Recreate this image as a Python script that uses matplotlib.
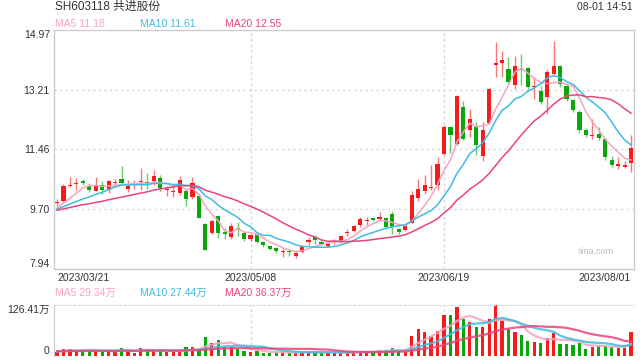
"""SH603118 daily candles with MA lines and volume panel"""

import numpy as np
import matplotlib.pyplot as plt

plt.rcParams['font.family'] = ['Liberation Sans', 'Noto Sans CJK SC', 'DejaVu Sans']

# closes / volumes before 2023/03/21, only used to seed the moving averages
prev_close = [9.52, 9.58, 9.61, 9.66, 9.70, 9.63, 9.59, 9.64, 9.71, 9.68,
              9.62, 9.65, 9.70, 9.73, 9.66, 9.62, 9.70, 9.68, 9.72]
prev_vol = [12.0, 13.5, 11.0, 12.5, 10.5, 12.0, 13.0, 11.5, 12.0, 10.0,
            12.5, 11.0, 13.0, 12.0, 11.5, 10.5, 12.0, 11.0, 12.5]

opens = [9.87, 9.93, 10.38, 10.44, 10.52, 10.37, 10.24, 10.42, 10.27, 10.46,
         10.60, 10.29, 10.44, 10.49, 10.48, 10.53, 10.63, 10.27, 10.20, 10.19,
         10.24, 10.06, 10.10, 9.26, 9.01, 9.49, 9.00, 8.87, 9.15, 9.00,
         8.82, 8.97, 8.74, 8.61, 8.56, 8.44, 8.45, 8.32, 8.43, 8.72,
         8.88, 8.74, 8.63, 8.74, 8.74, 8.99, 9.06, 9.23, 9.35, 9.45,
         9.42, 9.45, 9.55, 9.12, 9.08, 9.30, 10.04, 10.24, 10.33, 10.40,
         11.33, 12.13, 11.63, 12.70, 12.02, 12.13, 11.25, 12.23, 13.95, 13.99,
         13.81, 13.34, 13.81, 13.84, 13.28, 13.19, 13.00, 13.68, 13.92, 13.31,
         12.92, 12.56, 12.02, 11.86, 11.92, 11.77, 11.16, 10.98, 10.95, 11.06]
highs = [10.00, 10.43, 10.65, 10.63, 10.60, 10.46, 10.65, 10.53, 10.57, 10.60,
         10.97, 10.57, 10.57, 10.92, 10.75, 10.85, 10.70, 10.37, 10.40, 10.68,
         10.28, 10.64, 10.15, 9.28, 9.37, 9.50, 9.14, 9.29, 9.31, 9.02,
         8.98, 8.99, 8.76, 8.63, 8.58, 8.54, 8.54, 8.43, 8.65, 8.87,
         8.90, 8.78, 8.70, 8.83, 8.93, 9.13, 9.23, 9.48, 9.46, 9.48,
         9.63, 9.47, 9.65, 9.16, 9.27, 10.23, 10.60, 10.70, 11.00, 11.23,
         12.17, 12.14, 13.07, 12.89, 12.66, 12.26, 12.26, 13.27, 14.61, 14.36,
         14.18, 14.20, 14.26, 13.88, 13.58, 13.32, 13.83, 14.66, 13.93, 13.40,
         12.95, 12.61, 12.08, 12.36, 12.12, 11.80, 11.25, 11.22, 11.11, 11.87]
lows = [9.78, 9.92, 10.35, 10.26, 10.40, 10.20, 10.22, 10.15, 10.17, 10.35,
        10.42, 10.20, 10.30, 10.26, 10.28, 10.40, 10.24, 10.10, 10.05, 10.12,
        9.79, 10.00, 9.44, 8.50, 8.97, 8.85, 8.82, 8.82, 8.90, 8.76,
        8.76, 8.70, 8.58, 8.51, 8.40, 8.29, 8.33, 8.25, 8.40, 8.66,
        8.68, 8.64, 8.58, 8.68, 8.70, 8.91, 9.02, 9.17, 9.24, 9.35,
        9.38, 9.15, 8.97, 8.98, 9.05, 9.28, 9.95, 10.14, 10.27, 10.26,
        11.30, 11.34, 11.60, 11.72, 11.82, 11.28, 11.12, 12.20, 13.58, 13.58,
        13.40, 13.22, 13.34, 13.23, 12.95, 12.80, 12.50, 13.65, 13.30, 12.89,
        12.55, 11.94, 11.82, 11.77, 11.72, 11.14, 10.95, 10.87, 10.90, 10.80]
closes = [9.92, 10.37, 10.40, 10.46, 10.47, 10.26, 10.40, 10.26, 10.53, 10.48,
          10.48, 10.37, 10.45, 10.51, 10.46, 10.67, 10.32, 10.29, 10.22, 10.55,
          10.00, 10.47, 9.44, 8.50, 9.35, 9.01, 8.98, 9.20, 9.12, 8.82,
          8.94, 8.72, 8.64, 8.53, 8.46, 8.46, 8.43, 8.40, 8.62, 8.79,
          8.79, 8.68, 8.65, 8.76, 8.91, 9.01, 9.20, 9.41, 9.37, 9.38,
          9.44, 9.18, 9.18, 9.04, 9.23, 10.11, 10.29, 10.40, 10.35, 11.04,
          12.11, 11.87, 13.04, 11.77, 12.36, 11.58, 12.02, 13.24, 13.99, 14.10,
          13.43, 13.90, 13.79, 13.29, 13.30, 12.85, 13.73, 13.92, 13.39, 12.95,
          12.61, 12.02, 11.88, 11.88, 11.78, 11.23, 10.99, 11.02, 10.99, 11.50]
# volume in 万
volumes = [10.1, 17.6, 17.6, 12.6, 14.2, 14.2, 14.2, 10.1, 10.9, 10.9,
           20.1, 14.2, 7.5, 20.1, 14.2, 14.2, 14.2, 10.1, 10.9, 11.7,
           22.6, 22.6, 14.2, 47.8, 32.7, 40.2, 23.5, 22.6, 18.4, 12.6,
           10.1, 12.6, 8.4, 7.5, 9.2, 10.1, 8.4, 8.4, 10.1, 10.1,
           10.1, 8.4, 8.4, 8.4, 8.4, 8.4, 11.0, 12.6, 11.0, 11.0,
           14.3, 14.0, 21.0, 12.6, 12.6, 50.6, 65.8, 60.7, 49.7, 61.5,
           101.0, 101.0, 121.4, 91.0, 83.5, 70.8, 70.8, 92.7, 126.41, 86.0,
           65.8, 60.7, 53.0, 38.0, 35.4, 32.9, 45.5, 58.2, 30.3, 30.3,
           27.8, 32.9, 17.7, 22.8, 25.3, 25.3, 22.8, 20.2, 20.2, 60.7]

date_ticks = [0, 30, 60, 89]
date_labels = ['2023/03/21', '2023/05/08', '2023/06/19', '2023/08/01']
price_ticks = [7.94, 9.70, 11.46, 13.21, 14.97]
vol_max = 126.41

ma_periods = [5, 10, 20]
ma_names = ['MA5', 'MA10', 'MA20']
ma_price_text = ['11.18', '11.61', '12.55']
ma_vol_text = ['29.34万', '27.44万', '36.37万']
ma_colors = ['#f9a3c0', '#3dbde0', '#e9457c']

RED = '#f71c1c'
GREEN = '#0aa70a'
TEXT = '#333333'
GRID = '#d6d6d6'


def moving_avg(prev, vals, n):
    s = np.array(prev + vals, dtype=float)
    out = np.convolve(s, np.ones(n) / n, mode='valid')
    return out[-len(vals):]


o = np.array(opens)
h = np.array(highs)
l = np.array(lows)
c = np.array(closes)
v = np.array(volumes)
x = np.arange(len(c))
up = c >= o
colors = np.where(up, RED, GREEN)

fig = plt.figure(figsize=(6.4, 3.6), dpi=100)
ax = fig.add_axes([54 / 640, 1 - 269 / 360, 580 / 640, 239 / 360])
axv = fig.add_axes([54 / 640, 1 - 356 / 360, 580 / 640, 51 / 360])

# candles
body_lo = np.minimum(o, c)
body_h = np.maximum(np.abs(c - o), 0.035)
ax.vlines(x, l, h, colors=colors, lw=1.0, alpha=0.6, zorder=2)
ax.bar(x, body_h, bottom=body_lo, width=0.64, color=colors, lw=0, zorder=3)

for n, col in zip(ma_periods, ma_colors):
    ax.plot(x, moving_avg(prev_close, closes, n), color=col, lw=1.1, zorder=4)

ax.set_xlim(-0.47, 89.46)
ax.set_ylim(price_ticks[0], price_ticks[-1])
ax.set_yticks(price_ticks)
ax.set_yticklabels(['%.2f' % t for t in price_ticks])
labs = ax.get_yticklabels()
labs[0].set_va('bottom')
labs[-1].set_va('top')
ax.set_xticks(date_ticks)
ax.set_xticklabels(date_labels)
xl = ax.get_xticklabels()
xl[0].set_ha('left')
xl[-1].set_ha('right')
ax.tick_params(length=0, labelsize=7.5, labelcolor=TEXT, pad=3)
for y in price_ticks[1:-1]:
    ax.axhline(y, color=GRID, lw=1, ls=(0, (1.5, 2.5)), zorder=1)
for t in date_ticks[1:-1]:
    ax.axvline(t, color=GRID, lw=1, ls=(0, (2, 2)), zorder=1)
for sp in ax.spines.values():
    sp.set_color('#cccccc')
    sp.set_linewidth(1)
ax.text(0.965, 0.075, 'sina.com', transform=ax.transAxes, ha='right',
        va='center', fontsize=6.5, color='#bdbdbd')

# volume
axv.bar(x, v, width=0.5, color=colors, lw=0, zorder=2)
for n, col in zip(ma_periods, ma_colors):
    axv.plot(x, moving_avg(prev_vol, volumes, n), color=col, lw=1.6,
             alpha=0.85, zorder=3)
axv.set_xlim(-0.47, 89.46)
axv.set_ylim(0, vol_max)
axv.set_yticks([0, vol_max])
axv.set_yticklabels(['0', '%.2f万' % vol_max])
vl = axv.get_yticklabels()
vl[0].set_va('bottom')
vl[1].set_va('top')
axv.set_xticks([])
axv.tick_params(length=0, labelsize=7.5, labelcolor=TEXT, pad=3)
for t in date_ticks[1:-1]:
    axv.axvline(t, color=GRID, lw=1, ls=(0, (2, 2)), zorder=1)
axv.spines['top'].set_linestyle((0, (1.5, 2)))
axv.spines['top'].set_color(GRID)
axv.spines['left'].set_color('#cccccc')
axv.spines['right'].set_visible(False)
axv.spines['bottom'].set_visible(False)

# header texts
fig.text(55 / 640, 1 - 7 / 360, 'SH603118 共进股份', fontsize=8.5,
         color=TEXT, va='center')
fig.text(633 / 640, 1 - 7 / 360, '08-01 14:51', fontsize=7.5,
         color=TEXT, va='center', ha='right')
legend_x = [55, 140, 225]
for lx, name, txt, col in zip(legend_x, ma_names, ma_price_text, ma_colors):
    fig.text(lx / 640, 1 - 24 / 360, name + ' ' + txt, fontsize=7.5,
             color=col, va='center')
for lx, name, txt, col in zip(legend_x, ma_names, ma_vol_text, ma_colors):
    fig.text(lx / 640, 1 - 293 / 360, name + ' ' + txt, fontsize=7.5,
             color=col, va='center')

fig.savefig('out.png', dpi=100)
